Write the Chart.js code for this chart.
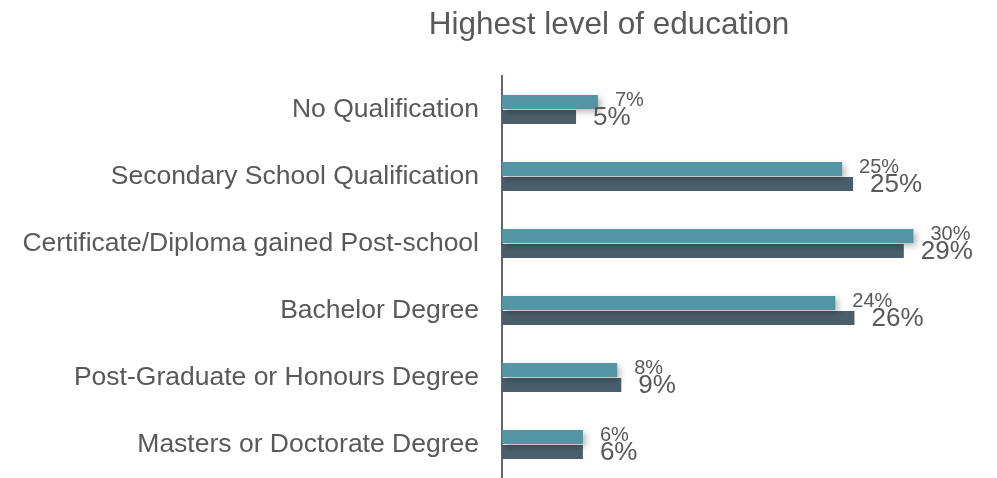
<!DOCTYPE html>
<html><head><meta charset="utf-8">
<script src="https://cdn.jsdelivr.net/npm/chart.js@4"></script>
<style>html,body{margin:0;padding:0;background:#fff;overflow:hidden}canvas{display:block}</style>
</head><body><canvas id="c" width="997" height="478" style="width:997px;height:478px"></canvas>
<script>
const categories = ["No Qualification","Secondary School Qualification","Certificate/Diploma gained Post-school","Bachelor Degree","Post-Graduate or Honours Degree","Masters or Doctorate Degree"];
const seriesA = [7.0, 24.8, 30.0, 24.3, 8.4, 5.9];
const seriesB = [5.4, 25.6, 29.3, 25.7, 8.7, 5.9];
const labelsA = ["7%","25%","30%","24%","8%","6%"];
const labelsB = ["5%","25%","29%","26%","9%","6%"];
const titleText = "Highest level of education";

const FONT = "'Liberation Sans', Arial, sans-serif";
const shadowPlugin = {
  id:'shadow',
  beforeDatasetDraw(chart,args){
    if(args.index===0){const c=chart.ctx;c.save();c.shadowColor='rgba(0,0,0,0.28)';c.shadowBlur=6;c.shadowOffsetX=3;c.shadowOffsetY=3;}
  },
  afterDatasetDraw(chart,args){ if(args.index===0){chart.ctx.restore();} }
};
const labelPlugin = {
  id:'vlabels',
  afterDatasetsDraw(chart){
    const c=chart.ctx;
    c.save();c.fillStyle='#595959';c.textBaseline='middle';c.textAlign='left';
    [[0,labelsA,'20px',-1],[1,labelsB,'26px',1]].forEach(([di,labs,sz,dy])=>{
      c.font=sz+' '+FONT;
      chart.getDatasetMeta(di).data.forEach((el,i)=>{c.fillText(labs[i],el.x+17,el.y+dy);});
    });
    c.font='31.5px '+FONT;c.textAlign='center';
    c.fillText(titleText,609,25);
    c.restore();
  }
};
new Chart(document.getElementById('c'),{
  type:'bar',
  data:{labels:categories,datasets:[
    {data:seriesA,backgroundColor:'#5495A3',barPercentage:0.92,categoryPercentage:0.45},
    {data:seriesB,backgroundColor:'#4A5F6B',barPercentage:0.92,categoryPercentage:0.45}
  ]},
  options:{
    indexAxis:'y',responsive:false,animation:false,
    layout:{padding:{left:0,right:15,top:76,bottom:0}},
    plugins:{legend:{display:false},tooltip:{enabled:false},title:{display:false}},
    scales:{
      x:{display:false,min:0,max:35},
      y:{grid:{display:false,drawTicks:false},border:{display:true,color:'#5A6A74',width:2},
        ticks:{color:'#595959',font:{family:FONT,size:26.5},padding:23},
        afterFit(s){s.width=502;s.paddingTop=0;s.paddingBottom=0;}}
    }
  },
  plugins:[shadowPlugin,labelPlugin]
});
</script></body></html>
